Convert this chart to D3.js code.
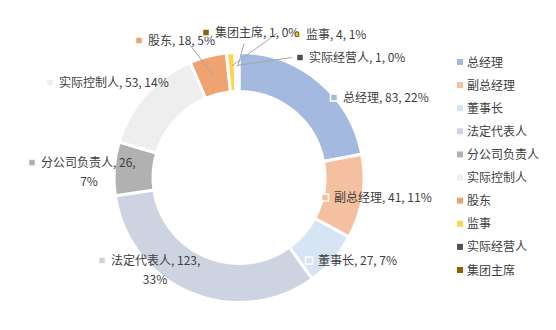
<!DOCTYPE html>
<html>
<head>
<meta charset="utf-8">
<script src="https://cdn.jsdelivr.net/npm/d3@7"></script>
<style>
  body { margin: 0; background: #fff; }
  svg text { font-family: "Noto Sans CJK SC", "Noto Sans", sans-serif; font-size: 12px; fill: #404040; }
</style>
</head>
<body>
<svg id="chart" width="556" height="330"></svg>
<script>
"use strict";

// data
var categories = ["总经理", "副总经理", "董事长", "法定代表人", "分公司负责人", "实际控制人", "股东", "监事", "实际经营人", "集团主席"];
var counts = [83, 41, 27, 123, 26, 53, 18, 4, 1, 1];
var percents = ["22%", "11%", "7%", "33%", "7%", "14%", "5%", "1%", "0%", "0%"];
var colors = ["#a4b9e0", "#f5c09f", "#d6e4f4", "#cdd3e0", "#b1b1b1", "#eeeeee", "#eea370", "#ffd34a", "#505050", "#8a6400"];

// label layout (marker position relative to chart centre, wrap, leader line)
var labelLayout = [
  { dx: 95, dy: -80 },
  { dx: 86, dy: 20 },
  { dx: 70, dy: 83 },
  { dx: -137, dy: 83, wrap: true, cx2: -84 },
  { dx: -207, dy: -15, wrap: true, cx2: -150 },
  { dx: -189, dy: -95 },
  { dx: -100, dy: -137, lead: [-51, -135] },
  { dx: 58, dy: -143, lead: [38, -144] },
  { dx: 61, dy: -120, lead: [53, -120] },
  { dx: -33, dy: -145, lead: [5, -134] }
];

var svg = d3.select("#chart");
var cx = 239, cy = 177.5, rOut = 125, rIn = 86;

var data = categories.map(function(c, i) {
  return { key: c, value: counts[i], pct: percents[i], i: i };
});

var color = d3.scaleOrdinal().domain(categories).range(colors);

var pie = d3.pie().value(function(d) { return d.value; }).sort(null);
var arc = d3.arc().innerRadius(rIn).outerRadius(rOut);
var arcs = pie(data);

var g = svg.append("g").attr("transform", "translate(" + cx + "," + cy + ")");

g.selectAll(".slice")
  .data(arcs)
  .enter().append("path")
    .attr("class", "slice")
    .attr("d", arc)
    .attr("fill", function(d) { return color(d.data.key); })
    .attr("stroke", "#fff")
    .attr("stroke-width", 3);

// leader lines for the small slices at the top
var midArc = d3.arc().innerRadius(rIn + 20).outerRadius(rIn + 20);
g.selectAll(".lead")
  .data(arcs.filter(function(d) { return labelLayout[d.data.i].lead; }))
  .enter().append("line")
    .attr("class", "lead")
    .attr("x1", function(d) { return labelLayout[d.data.i].lead[0]; })
    .attr("y1", function(d) { return labelLayout[d.data.i].lead[1]; })
    .attr("x2", function(d) { return midArc.centroid(d)[0]; })
    .attr("y2", function(d) { return midArc.centroid(d)[1] + (d.data.value < 5 ? -6 : 0); })
    .attr("stroke", "#a6a6a6")
    .attr("stroke-width", 1);

// data labels
var lab = g.selectAll(".dlabel")
  .data(arcs)
  .enter().append("g")
    .attr("class", "dlabel")
    .attr("transform", function(d) {
      var l = labelLayout[d.data.i];
      return "translate(" + l.dx + "," + l.dy + ")";
    });

lab.append("rect")
  .attr("x", -3.5).attr("y", -3.5)
  .attr("width", 7).attr("height", 7)
  .attr("fill", function(d) { return color(d.data.key); })
  .attr("stroke", "#fff")
  .attr("stroke-width", 1.5);

lab.append("text")
  .attr("x", 9)
  .attr("y", 4.5)
  .text(function(d) {
    var l = labelLayout[d.data.i];
    return d.data.key + ", " + d.data.value + "," + (l.wrap ? "" : " " + d.data.pct);
  });

lab.filter(function(d) { return labelLayout[d.data.i].wrap; })
  .append("text")
    .attr("x", function(d) { var l = labelLayout[d.data.i]; return l.cx2 - l.dx; })
    .attr("y", 23)
    .attr("text-anchor", "middle")
    .text(function(d) { return d.data.pct; });

// legend
var ly = d3.scalePoint().domain(categories).range([62, 270]);
var leg = svg.append("g").selectAll(".legend")
  .data(categories)
  .enter().append("g")
    .attr("class", "legend")
    .attr("transform", function(d) { return "translate(460," + ly(d) + ")"; });

leg.append("rect")
  .attr("x", -3).attr("y", -3)
  .attr("width", 6).attr("height", 6)
  .attr("fill", function(d) { return color(d); });

leg.append("text")
  .attr("x", 7)
  .attr("y", 4.5)
  .text(function(d) { return d; });
</script>
</body>
</html>
